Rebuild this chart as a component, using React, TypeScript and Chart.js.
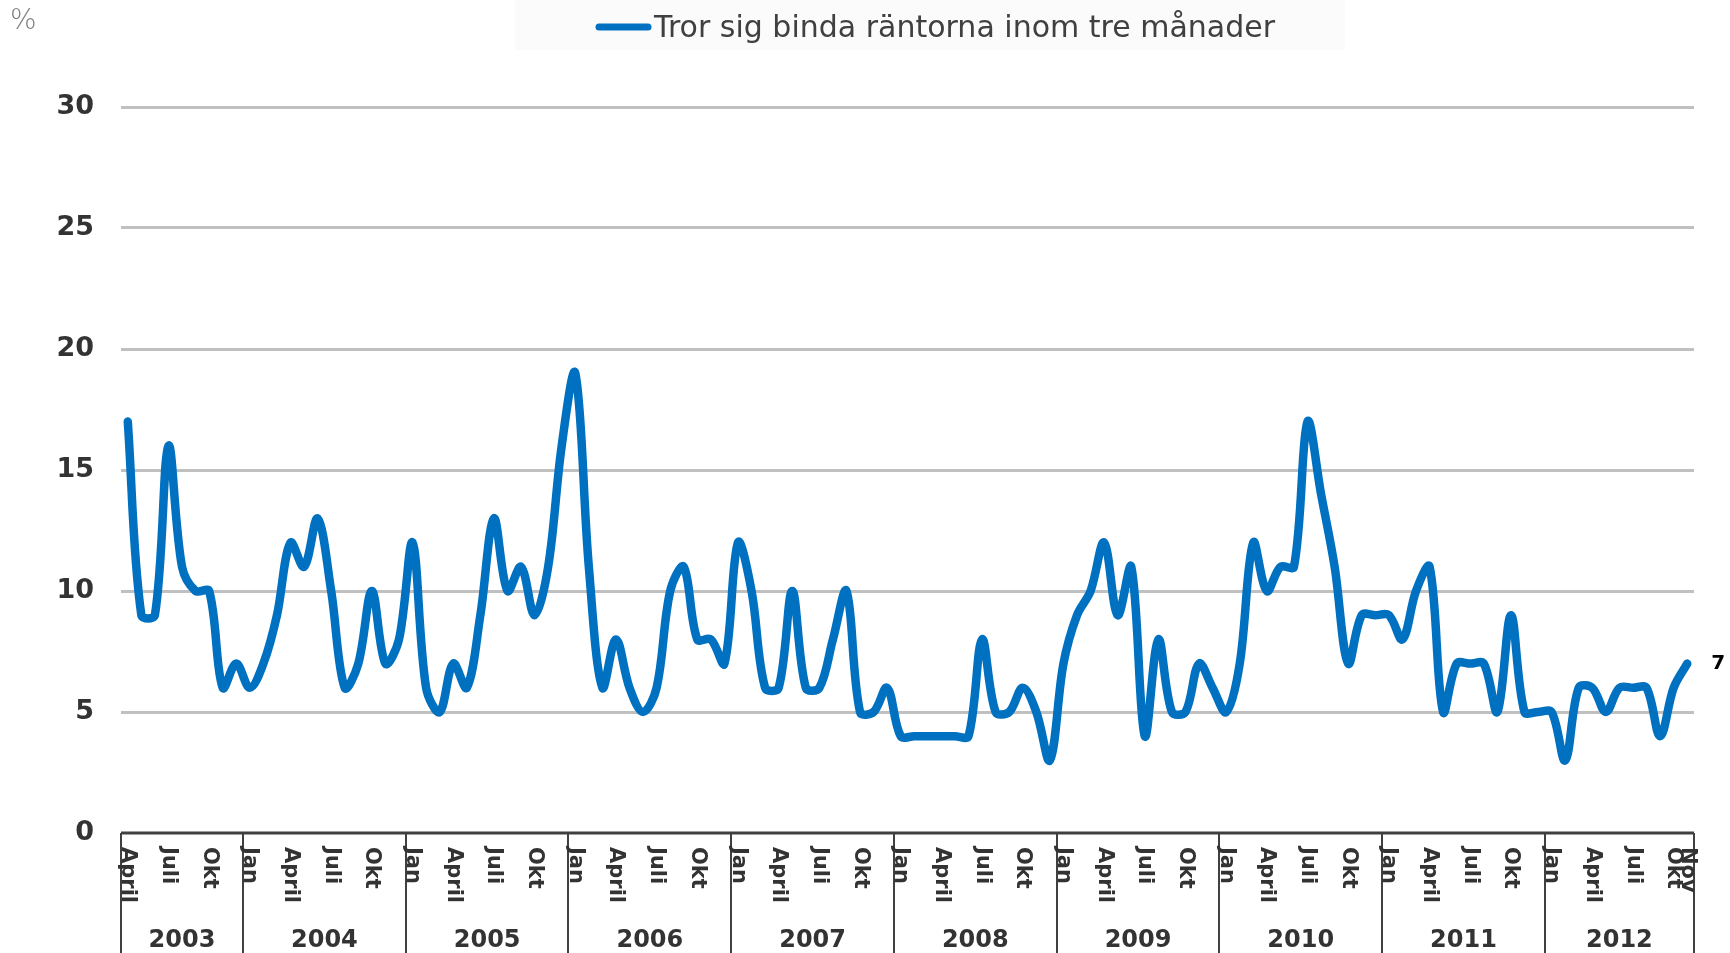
import { useEffect, useRef } from 'react';
import { Chart, registerables } from 'chart.js';

Chart.register(...registerables);

const seriesTitle = 'Tror sig binda räntorna inom tre månader';
const unitLabel = '%';
const years = ['2003', '2004', '2005', '2006', '2007', '2008', '2009', '2010', '2011', '2012'];
const monthNames = ['Jan', 'Feb', 'Mars', 'April', 'Maj', 'Juni', 'Juli', 'Aug', 'Sep', 'Okt', 'Nov', 'Dec'];
const labelledMonths = ['Jan', 'April', 'Juli', 'Okt'];
const firstMonthIndex = 3; // series starts April 2003
const yTicks = [0, 5, 10, 15, 20, 25, 30];

const values2003 = [17, 9, 9, 16, 11, 10, 10, 6, 7];
const values2004 = [6, 7, 9, 12, 11, 13, 10, 6, 7, 10, 7, 8];
const values2005 = [12, 6, 5, 7, 6, 9, 13, 10, 11, 9, 11, 16];
const values2006 = [19, 11, 6, 8, 6, 5, 6, 10, 11, 8, 8, 7];
const values2007 = [12, 10, 6, 6, 10, 6, 6, 8, 10, 5, 5, 6];
const values2008 = [4, 4, 4, 4, 4, 4, 8, 5, 5, 6, 5, 3];
const values2009 = [7, 9, 10, 12, 9, 11, 4, 8, 5, 5, 7, 6];
const values2010 = [5, 7, 12, 10, 11, 11, 17, 14, 11, 7, 9, 9];
const values2011 = [9, 8, 10, 11, 5, 7, 7, 7, 5, 9, 5, 5];
const values2012 = [5, 3, 6, 6, 5, 6, 6, 6, 4, 6, 7];

const yearValues = [
  values2003, values2004, values2005, values2006, values2007,
  values2008, values2009, values2010, values2011, values2012,
];

const categories: string[] = [];
const monthOf: string[] = [];
const values: number[] = [];
yearValues.forEach((arr, yi) => {
  arr.forEach((v, k) => {
    const m = yi === 0 ? firstMonthIndex + k : k;
    categories.push(`${monthNames[m]} ${years[yi]}`);
    monthOf.push(monthNames[m]);
    values.push(v);
  });
});

const BLUE = '#0070C0';
const TEXT = '#333333';

export default function App() {
  const ref = useRef<HTMLCanvasElement>(null);

  useEffect(() => {
    const canvas = ref.current;
    if (!canvas) return;

    const decor = {
      id: 'decor',
      beforeDraw(chart: any) {
        const ctx = chart.ctx;
        ctx.save();
        ctx.fillStyle = '#ffffff';
        ctx.fillRect(0, 0, chart.width, chart.height);
        ctx.fillStyle = '#fbfbfb';
        ctx.fillRect(515, 0, 830, 50);
        ctx.restore();
      },
      afterDraw(chart: any) {
        const { ctx, chartArea: ca, scales } = chart;
        const xs = scales.x;
        const ys = scales.y;
        const n = values.length;
        ctx.save();

        // x axis line
        ctx.strokeStyle = '#404040';
        ctx.lineWidth = 3;
        ctx.beginPath();
        ctx.moveTo(ca.left, ca.bottom);
        ctx.lineTo(ca.right, ca.bottom);
        ctx.stroke();

        // year boundaries
        const bounds: number[] = [];
        let idx = 0;
        yearValues.forEach((arr) => { bounds.push(idx); idx += arr.length; });
        bounds.push(idx);
        const bx = (i: number) =>
          i === 0 ? ca.left : i === n ? ca.right : (xs.getPixelForValue(i - 1) + xs.getPixelForValue(i)) / 2;
        ctx.lineWidth = 2;
        bounds.forEach((b) => {
          const x = Math.round(bx(b));
          ctx.beginPath();
          ctx.moveTo(x, ca.bottom);
          ctx.lineTo(x, chart.height);
          ctx.stroke();
        });

        // year labels
        ctx.fillStyle = TEXT;
        ctx.font = 'bold 24px "DejaVu Sans"';
        ctx.textAlign = 'center';
        ctx.textBaseline = 'alphabetic';
        years.forEach((y, k) => {
          ctx.fillText(y, (bx(bounds[k]) + bx(bounds[k + 1])) / 2, 947);
        });

        // month labels (rotated, reading downwards)
        ctx.font = 'bold 21px "DejaVu Sans"';
        monthOf.forEach((m, i) => {
          if (labelledMonths.includes(m) || i === n - 1) {
            ctx.save();
            ctx.translate(xs.getPixelForValue(i), ca.bottom + 14);
            ctx.rotate(Math.PI / 2);
            ctx.textAlign = 'left';
            ctx.textBaseline = 'middle';
            ctx.fillText(m, 0, 0);
            ctx.restore();
          }
        });

        // last value label
        ctx.fillStyle = '#000000';
        ctx.font = 'bold 20px "DejaVu Sans"';
        ctx.textAlign = 'left';
        ctx.textBaseline = 'middle';
        ctx.fillText(String(values[n - 1]), xs.getPixelForValue(n - 1) + 24, ys.getPixelForValue(values[n - 1]));

        // unit label
        ctx.fillStyle = '#7f7f7f';
        ctx.font = '200 28px "DejaVu Sans"';
        ctx.textBaseline = 'alphabetic';
        ctx.fillText(unitLabel, 10, 29);

        // legend
        ctx.strokeStyle = BLUE;
        ctx.lineWidth = 7;
        ctx.lineCap = 'round';
        ctx.beginPath();
        ctx.moveTo(599, 27);
        ctx.lineTo(648, 27);
        ctx.stroke();
        ctx.fillStyle = '#404040';
        ctx.font = '30px "DejaVu Sans"';
        ctx.textAlign = 'left';
        ctx.textBaseline = 'alphabetic';
        ctx.fillText(seriesTitle, 654, 37);

        ctx.restore();
      },
    };

    const chart = new Chart(canvas, {
      type: 'line',
      data: {
        labels: categories,
        datasets: [
          {
            label: seriesTitle,
            data: values,
            borderColor: BLUE,
            backgroundColor: BLUE,
            borderWidth: 8.5,
            pointRadius: 0,
            pointHoverRadius: 0,
            tension: 0.35,
            borderCapStyle: 'round',
            borderJoinStyle: 'round',
            fill: false,
          },
        ],
      },
      options: {
        responsive: false,
        animation: false,
        events: [],
        layout: { padding: { top: 107, right: 36, left: 0, bottom: 0 } },
        plugins: {
          legend: { display: false },
          tooltip: { enabled: false },
          title: { display: false },
        },
        scales: {
          x: {
            type: 'category',
            offset: true,
            grid: { display: false },
            border: { display: false },
            ticks: { display: false },
            afterFit: (s: any) => { s.height = 120; },
          },
          y: {
            min: yTicks[0],
            max: yTicks[yTicks.length - 1],
            grid: {
              color: (c: any) => (c.tick && c.tick.value === 0 ? 'rgba(0,0,0,0)' : '#c0c0c0'),
              lineWidth: 3,
              drawTicks: false,
            },
            border: { display: false },
            ticks: {
              stepSize: yTicks[1] - yTicks[0],
              padding: 27,
              color: TEXT,
              font: { family: 'DejaVu Sans', size: 27, weight: 'bold' },
            },
            afterFit: (s: any) => { s.width = 121; },
          },
        },
      },
      plugins: [decor],
    } as any);

    return () => chart.destroy();
  }, []);

  return (
    <div style={{ position: 'fixed', left: 0, top: 0, width: 1730, height: 953, background: '#ffffff' }}>
      <canvas ref={ref} width={1730} height={953} style={{ display: 'block', width: 1730, height: 953 }} />
    </div>
  );
}
